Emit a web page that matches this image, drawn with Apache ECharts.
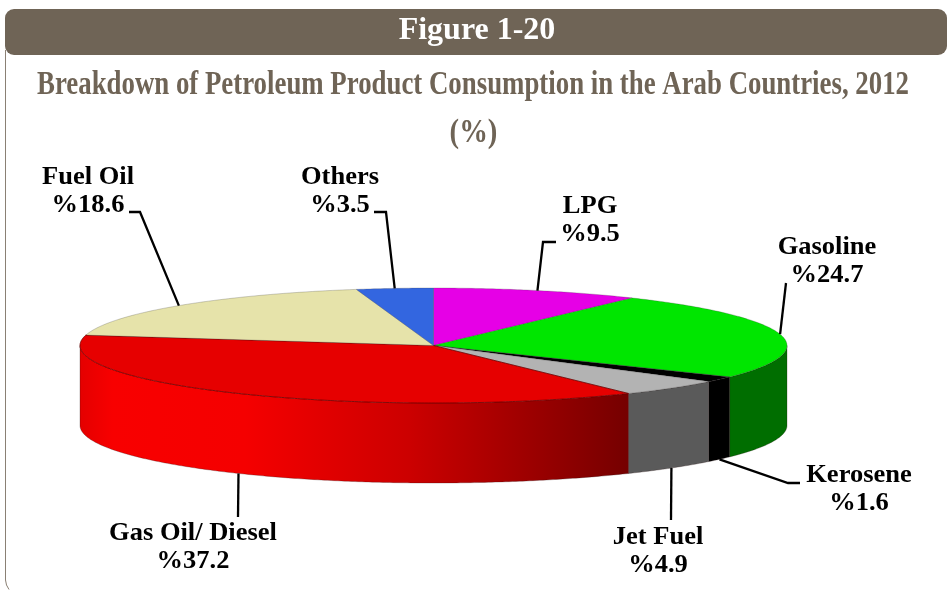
<!DOCTYPE html>
<html>
<head>
<meta charset="utf-8">
<script src="https://cdn.jsdelivr.net/npm/echarts@6/dist/echarts.min.js"></script>
<style>
html, body { margin: 0; padding: 0; background: #fff; }
#chart { width: 947px; height: 590px; }
</style>
</head>
<body>
<div id="chart"></div>
<script>
// chart data, clockwise from 12 o'clock
var products = ['LPG', 'Gasoline', 'Kerosene', 'Jet Fuel', 'Gas Oil/ Diesel', 'Fuel Oil', 'Others'];
var shares = [9.5, 24.7, 1.6, 4.9, 37.2, 18.6, 3.5];
var figureName = 'Figure 1-20';
var chartTitle = 'Breakdown of Petroleum Product Consumption in the Arab Countries, 2012';
var chartUnit = '(%)';

// pie geometry
var CX = 433.5, CY = 345.5, RX = 353.5, RY = 57.5, DEPTH = 80;
var topColors = ['#e600e6', '#00e600', '#000000', '#b3b3b3', '#e60000', '#e6e3aa', '#3366e0'];
var brown = '#6f6456';
var labelFont = 'bold 25px "Liberation Serif"';

// label centre, first baseline, and the leader elbows from label to rim
var labelLayout = [
	{x: 590, y: 219, elbow: [[556, 242], [543, 242]]},
	{x: 827, y: 260, elbow: [[786, 283]]},
	{x: 859, y: 488, elbow: [[800, 483], [788, 483]], bottom: true},
	{x: 658, y: 550, elbow: [[671, 520]], bottom: true},
	{x: 193, y: 546, elbow: [[238, 517]], bottom: true},
	{x: 88, y: 190, elbow: [[129, 212], [140, 212]]},
	{x: 340, y: 190, elbow: [[374, 212], [386, 212]]}
];

// cumulative start/end angle of each slice, in radians clockwise from the top
function buildSlices() {
	var total = 0, sum = 0, i;
	for (i = 0; i < shares.length; i++) total += shares[i];
	var rows = [];
	for (i = 0; i < shares.length; i++) {
		var a0 = sum / total * Math.PI * 2;
		sum += shares[i];
		rows.push([a0, sum / total * Math.PI * 2, i]);
	}
	return rows;
}

function rim(a, drop) {
	return [CX + RX * Math.sin(a), CY - RY * Math.cos(a) + (drop || 0)];
}

function arc(a0, a1, drop) {
	var n = Math.max(2, Math.ceil((a1 - a0) / 0.01)), pts = [];
	for (var i = 0; i <= n; i++) pts.push(rim(a0 + (a1 - a0) * i / n, drop));
	return pts;
}

// side wall colours depend on the slice
function wallFill(i, a0, a1) {
	if (i == 1) return '#006e00';
	if (i == 2) return '#000000';
	if (i == 3) return '#5a5a5a';
	var x0 = rim(a1)[0], x1 = rim(a0)[0];
	return new echarts.graphic.LinearGradient(x0, 0, x1, 0, [
		{offset: 0, color: '#e40000'},
		{offset: 0.06, color: '#f80000'},
		{offset: 0.3, color: '#f50000'},
		{offset: 0.6, color: '#cc0000'},
		{offset: 0.85, color: '#960000'},
		{offset: 1, color: '#750000'}
	], true);
}

function renderWall(params, api) {
	var a0 = Math.max(api.value(0), Math.PI / 2), a1 = Math.min(api.value(1), Math.PI * 1.5);
	if (a1 <= a0) return null;
	var i = api.value(2);
	var pts = arc(a0, a1, 0).concat(arc(a0, a1, DEPTH).reverse());
	return {
		type: 'polygon',
		shape: {points: pts},
		style: {fill: wallFill(i, a0, a1), stroke: 'rgba(40,20,20,0.45)', lineWidth: 0.6}
	};
}

function renderTop(params, api) {
	var i = api.value(2);
	var pts = [[CX, CY]].concat(arc(api.value(0), api.value(1), 0));
	return {
		type: 'polygon',
		shape: {points: pts},
		style: {
			fill: topColors[i],
			stroke: i == 4 ? 'rgba(110,0,0,0.8)' : 'rgba(50,50,50,0.4)',
			lineWidth: i == 4 ? 1 : 0.6
		}
	};
}

function labelText(str, x, y) {
	return {
		type: 'text',
		x: x,
		y: y,
		scaleX: 1.06,
		style: {text: str, font: labelFont, fill: '#000', align: 'center', verticalAlign: 'bottom'}
	};
}

function renderLabel(params, api) {
	var i = api.value(2), lay = labelLayout[i];
	var mid = (api.value(0) + api.value(1)) / 2;
	var line = lay.elbow.concat([rim(mid, lay.bottom ? DEPTH : 0)]);
	return {
		type: 'group',
		children: [{
			type: 'polyline',
			shape: {points: line},
			style: {fill: null, stroke: '#000', lineWidth: 2.3}
		},
		labelText(products[i], lay.x, lay.y),
		labelText('%' + shares[i], lay.x, lay.y + 28)]
	};
}

var slices = buildSlices();
var chart = echarts.init(document.getElementById('chart'), null, {renderer: 'canvas'});
chart.setOption({
	animation: false,
	backgroundColor: '#fff',
	graphic: [
		{type: 'polyline', z: 1, shape: {points: [[5.5, 50], [5.5, 580], [6.5, 585], [9, 589.5]]},
			style: {fill: null, stroke: '#8a8074', lineWidth: 1}},
		{type: 'rect', z: 2, shape: {x: 5, y: 9, width: 942, height: 46, r: 9}, style: {fill: brown}},
		{type: 'text', z: 3, x: 477, y: 31, style: {text: figureName, font: 'bold 32px "Liberation Serif"',
			fill: '#fff', align: 'center', verticalAlign: 'middle'}},
		{type: 'text', z: 3, x: 473, y: 85, scaleX: 0.813, style: {text: chartTitle, font: 'bold 33px "Liberation Serif"',
			fill: brown, align: 'center', verticalAlign: 'middle'}},
		{type: 'text', z: 3, x: 473.5, y: 133, scaleX: 0.87, style: {text: chartUnit, font: 'bold 33px "Liberation Serif"',
			fill: brown, align: 'center', verticalAlign: 'middle'}}
	],
	series: [
		{type: 'custom', coordinateSystem: 'none', z: 2, silent: true, data: slices, renderItem: renderWall},
		{type: 'custom', coordinateSystem: 'none', z: 3, silent: true, data: slices, renderItem: renderTop},
		{type: 'custom', coordinateSystem: 'none', z: 4, silent: true, data: slices, renderItem: renderLabel}
	]
});
</script>
</body>
</html>
